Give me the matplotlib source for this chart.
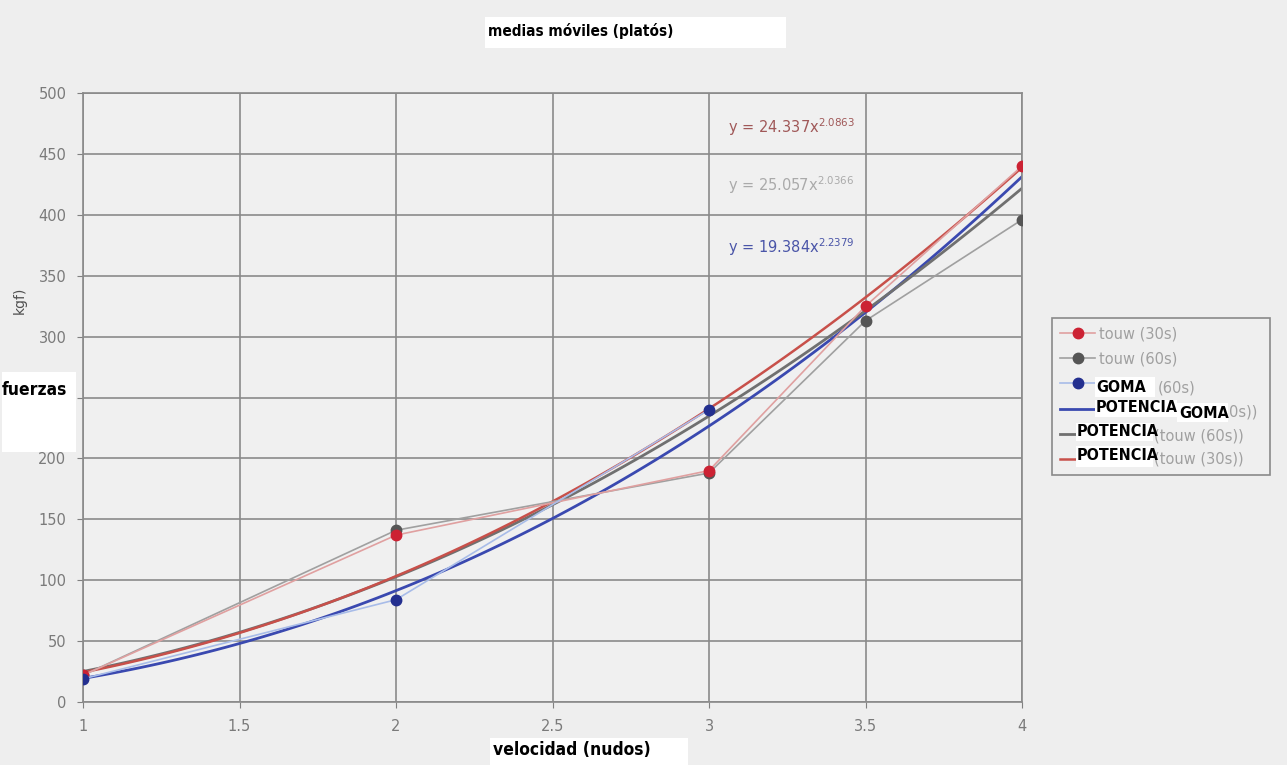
import numpy as np
import matplotlib.pyplot as plt
from matplotlib.patches import Rectangle

# datos
x_30 = [1, 2, 3, 3.5, 4]
y_30 = [22, 137, 190, 325, 440]
x_60 = [1, 2, 3, 3.5, 4]
y_60 = [22, 141, 188, 313, 396]
x_goma = [1, 2, 3]
y_goma = [19, 84, 240]

# coeficientes de las lineas de tendencia (potencia)
a_30, b_30 = 24.337, 2.0863
a_60, b_60 = 25.057, 2.0366
a_goma, b_goma = 19.384, 2.2379

# el 250 queda tapado por la caja de "fuerzas"
y_ticks = [0, 50, 100, 150, 200, 250, 300, 350, 400, 450, 500]
y_ticklabels = ['0', '50', '100', '150', '200', '', '300', '350', '400', '450', '500']

W, H = 1287, 765
fig = plt.figure(figsize=(W / 100, H / 100), dpi=100, facecolor='#eeeeee')
ax = fig.add_axes([83 / W, 1 - 702 / H, (1022 - 83) / W, (702 - 93) / H])
ax.set_facecolor('#f0f0f0')

# series de datos
l60, = ax.plot(x_60, y_60, color='#a0a0a0', lw=1.2, marker='o', ms=7.5, mfc='#555555', mec='#555555', zorder=3)
l30, = ax.plot(x_30, y_30, color='#e0a0a0', lw=1.2, marker='o', ms=7.5, mfc='#cc2233', mec='#cc2233', zorder=3)
lgo, = ax.plot(x_goma, y_goma, color='#a8bce8', lw=1.2, marker='o', ms=7.5, mfc='#232f8f', mec='#232f8f', zorder=3)

xs = np.linspace(1, 4, 100)
tgo, = ax.plot(xs, a_goma * xs ** b_goma, color='#3a49b0', lw=2, zorder=2)
t60, = ax.plot(xs, a_60 * xs ** b_60, color='#707070', lw=2, zorder=2)
t30, = ax.plot(xs, a_30 * xs ** b_30, color='#c8504a', lw=1.8, zorder=2)

ax.set_xlim(1, 4)
ax.set_ylim(0, 500)
ax.set_xticks(np.arange(1, 4.01, 0.5))
ax.set_xticklabels(['1', '1.5', '2', '2.5', '3', '3.5', '4'])
ax.set_yticks(y_ticks)
ax.set_yticklabels(y_ticklabels)
ax.grid(True, color='#8a8a8a', lw=1.2)
ax.set_axisbelow(True)
for s in ax.spines.values():
    s.set_color('#8a8a8a')
    s.set_linewidth(1.2)
ax.tick_params(colors='#808080', labelsize=10.5, length=4, pad=8)
for t in ax.get_xticklabels() + ax.get_yticklabels():
    t.set_color('#7a7a7a')

# ecuaciones
ax.text(728 / W, 1 - 127 / H, 'y = 24.337x$^{2.0863}$', transform=fig.transFigure, color='#a05858', fontsize=10.5, va='center')
ax.text(728 / W, 1 - 185 / H, 'y = 25.057x$^{2.0366}$', transform=fig.transFigure, color='#aaaaaa', fontsize=10.5, va='center')
ax.text(728 / W, 1 - 247 / H, 'y = 19.384x$^{2.2379}$', transform=fig.transFigure, color='#4a55a8', fontsize=10.5, va='center')

# leyenda: las filas 3-6 llevan el texto tapado, los restos visibles van aparte
labels = ['touw (30s)', 'touw (60s)', ' ', ' ', ' ', ' ']
leg = ax.legend([l30, l60, lgo, tgo, t60, t30], labels, mode='expand',
                loc='upper left', bbox_to_anchor=(1052 / W, 1 - 477 / H, 218 / W, 159 / H),
                bbox_transform=fig.transFigure,
                fontsize=10.5, frameon=True, fancybox=False, edgecolor='#707070', facecolor='#f0f0f0',
                labelcolor='#a0a0a0', handlelength=2.4, handletextpad=0.3, borderpad=0.55,
                labelspacing=0.7, borderaxespad=0)
leg.get_frame().set_linewidth(1.2)

restos = [(1158, 388, '(60s)'), (1229, 412, '0s))'), (1154, 436, '(touw (60s))'), (1154, 459, '(touw (30s))')]
for xr, yr, sr in restos:
    fig.text(xr / W, 1 - yr / H, sr, fontsize=10.5, color='#a0a0a0', va='center', ha='left', zorder=5)


def caja(x0, y0, x1, y1):
    fig.add_artist(Rectangle((x0 / W, 1 - y1 / H), (x1 - x0) / W, (y1 - y0) / H,
                             transform=fig.transFigure, facecolor='white', edgecolor='none', zorder=4))


def negrita(x, y, s, size=11):
    fig.text(x / W, 1 - y / H, s, fontsize=size, va='center', ha='left', zorder=5,
             family='DejaVu Sans', fontstretch='condensed', weight='bold', color='black')


# etiquetas sobrepuestas
caja(485, 17, 786, 48)
negrita(488, 31, 'medias móviles (platós)', 11)
caja(490, 738, 688, 765)
negrita(493, 750, 'velocidad (nudos)', 12.5)
fig.text(20 / W, 1 - 300 / H, 'kgf)', rotation=90, fontsize=10, color='#505050', va='center', ha='center')
caja(2, 372, 76, 452)
negrita(2, 390, 'fuerzas', 12.5)

caja(1095, 377, 1155, 397)
negrita(1096, 387, 'GOMA', 11.5)
caja(1095, 400, 1177, 417)
negrita(1096, 408, 'POTENCIA', 11.5)
caja(1177, 403, 1228, 422)
negrita(1179, 413, 'GOMA', 11.5)
caja(1076, 423, 1153, 441)
negrita(1077, 432, 'POTENCIA', 11.5)
caja(1076, 446, 1153, 467)
negrita(1077, 456, 'POTENCIA', 11.5)

fig.savefig('out.png', dpi=100, facecolor=fig.get_facecolor())
